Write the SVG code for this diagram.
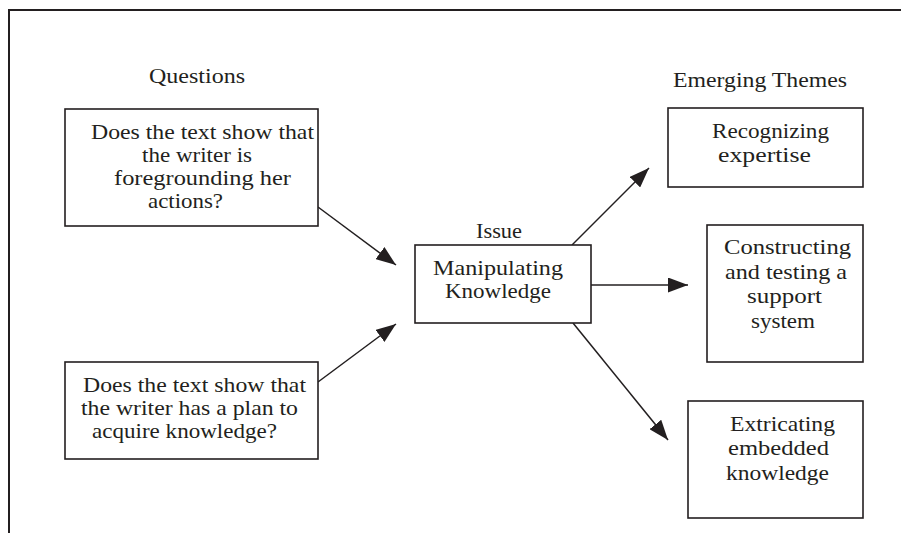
<svg xmlns="http://www.w3.org/2000/svg" width="901" height="533" viewBox="0 0 901 533">
<defs>
<style>
.bx{fill:#fff;stroke:#231f20;stroke-width:1.6}
.t{font-family:"Liberation Serif","Times New Roman",serif;font-size:21.5px;fill:#231f20}
.c{stroke:#231f20;stroke-width:1.5;fill:none}
.frame{stroke:#231f20;stroke-width:2;fill:none}
</style>
<marker id="ah" viewBox="0 0 20 15" refX="20" refY="7.5" markerWidth="20" markerHeight="15" markerUnits="userSpaceOnUse" orient="auto">
<path d="M0,0 L20,7.5 L0,15 z" fill="#231f20"/>
</marker>
</defs>
<rect width="901" height="533" fill="#fff"/>
<path class="frame" d="M9,533 V10 H901"/>
<g id="headings">
<text class="t" x="149" y="83" textLength="96" lengthAdjust="spacingAndGlyphs">Questions</text>
<text class="t" x="673" y="87" textLength="174" lengthAdjust="spacingAndGlyphs">Emerging Themes</text>
<text class="t" x="476" y="238" textLength="46" lengthAdjust="spacingAndGlyphs">Issue</text>
</g>
<g id="connectors">
<line class="c" x1="318" y1="207" x2="396" y2="265" marker-end="url(#ah)"/>
<line class="c" x1="318" y1="382" x2="396" y2="324" marker-end="url(#ah)"/>
<line class="c" x1="572" y1="245" x2="649" y2="168" marker-end="url(#ah)"/>
<line class="c" x1="591" y1="285" x2="688" y2="285" marker-end="url(#ah)"/>
<line class="c" x1="573" y1="323" x2="668" y2="440" marker-end="url(#ah)"/>
</g>
<g id="q1">
<rect class="bx" x="65" y="109" width="253" height="117"/>
<text class="t" x="91" y="139" textLength="223" lengthAdjust="spacingAndGlyphs">Does the text show that</text>
<text class="t" x="142" y="162" textLength="110" lengthAdjust="spacingAndGlyphs">the writer is</text>
<text class="t" x="114" y="185" textLength="177" lengthAdjust="spacingAndGlyphs">foregrounding her</text>
<text class="t" x="148" y="208" textLength="75" lengthAdjust="spacingAndGlyphs">actions?</text>
</g>
<g id="q2">
<rect class="bx" x="65" y="362" width="253" height="97"/>
<text class="t" x="83" y="392" textLength="223" lengthAdjust="spacingAndGlyphs">Does the text show that</text>
<text class="t" x="81" y="415" textLength="217" lengthAdjust="spacingAndGlyphs">the writer has a plan to</text>
<text class="t" x="92" y="438" textLength="185" lengthAdjust="spacingAndGlyphs">acquire knowledge?</text>
</g>
<g id="issue">
<rect class="bx" x="415" y="245" width="176" height="78"/>
<text class="t" x="433" y="275" textLength="130" lengthAdjust="spacingAndGlyphs">Manipulating</text>
<text class="t" x="445" y="298" textLength="106" lengthAdjust="spacingAndGlyphs">Knowledge</text>
</g>
<g id="theme1">
<rect class="bx" x="668" y="108" width="195" height="79"/>
<text class="t" x="712" y="138" textLength="117" lengthAdjust="spacingAndGlyphs">Recognizing</text>
<text class="t" x="718" y="162" textLength="93" lengthAdjust="spacingAndGlyphs">expertise</text>
</g>
<g id="theme2">
<rect class="bx" x="707" y="225" width="156" height="137"/>
<text class="t" x="724" y="254" textLength="127" lengthAdjust="spacingAndGlyphs">Constructing</text>
<text class="t" x="725" y="279" textLength="122" lengthAdjust="spacingAndGlyphs">and testing a</text>
<text class="t" x="747" y="303" textLength="75" lengthAdjust="spacingAndGlyphs">support</text>
<text class="t" x="751" y="328" textLength="64" lengthAdjust="spacingAndGlyphs">system</text>
</g>
<g id="theme3">
<rect class="bx" x="688" y="401" width="175" height="117"/>
<text class="t" x="730" y="431" textLength="105" lengthAdjust="spacingAndGlyphs">Extricating</text>
<text class="t" x="728" y="455" textLength="101" lengthAdjust="spacingAndGlyphs">embedded</text>
<text class="t" x="726" y="480" textLength="103" lengthAdjust="spacingAndGlyphs">knowledge</text>
</g>
</svg>
